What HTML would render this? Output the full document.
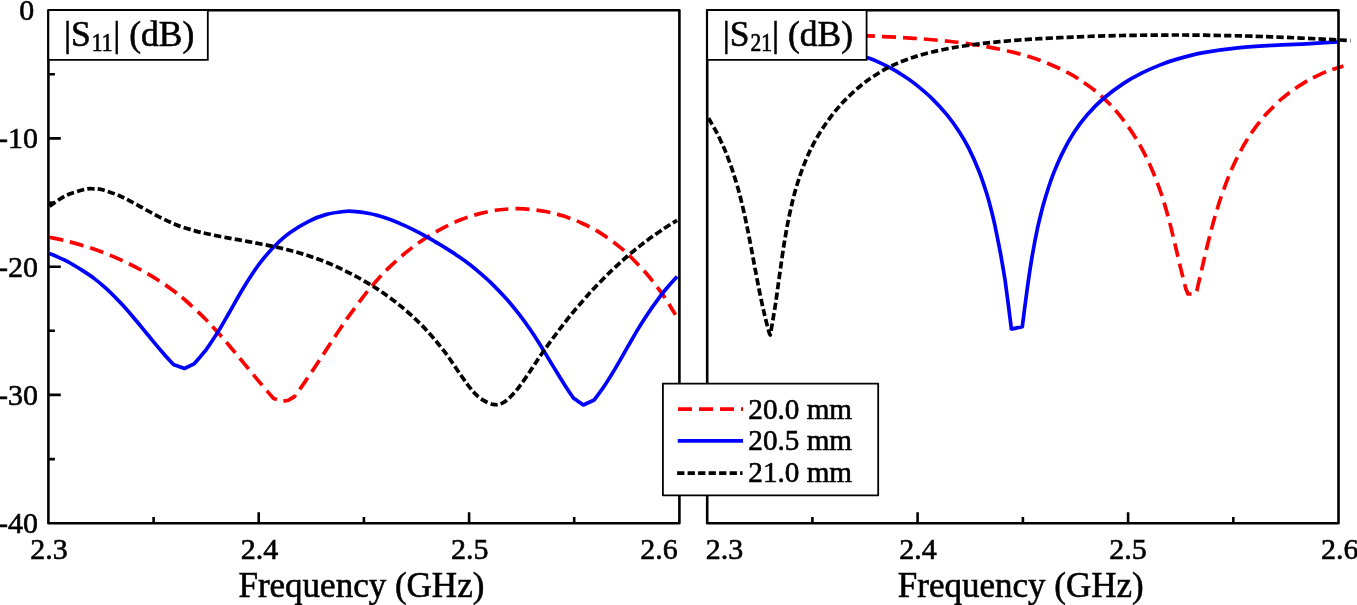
<!DOCTYPE html>
<html><head><meta charset="utf-8"><title>S-parameters</title>
<style>html,body{margin:0;padding:0;background:#fff;width:1357px;height:605px;overflow:hidden;font-family:"Liberation Serif",serif;}svg{display:block;will-change:transform} text{stroke:#000;stroke-width:0.6}</style>
</head><body>
<svg width="1357" height="605" viewBox="0 0 1357 605">
<rect width="1357" height="605" fill="#fff"/>
<path d="M49.5,237.3 C52.3,237.9 60.3,239.5 66.1,240.9 C71.9,242.4 78.3,244.1 84.4,246.0 C90.5,247.9 96.5,250.0 102.6,252.3 C108.6,254.6 114.7,257.1 120.8,259.9 C126.9,262.7 133.1,265.7 139.1,269.0 C145.2,272.2 151.3,275.8 157.1,279.5 C162.8,283.1 168.6,287.2 173.5,290.8 C178.3,294.4 181.1,296.5 186.2,301.0 C191.4,305.6 199.3,313.0 204.6,318.2 C209.9,323.5 213.4,327.5 217.9,332.5 C222.4,337.5 227.1,343.0 231.4,348.2 C235.8,353.4 239.9,358.4 244.2,363.7 C248.6,368.9 253.5,374.9 257.4,379.6 C261.4,384.4 265.3,389.0 268.0,392.1 C270.7,395.2 272.7,397.4 273.6,398.4 C275.1,398.9 281.3,400.8 282.8,401.3 C283.8,401.1 287.6,400.4 288.6,400.2 C289.6,399.6 293.4,397.3 294.4,396.7 C295.9,394.7 299.7,389.5 303.1,384.6 C306.5,379.6 311.0,372.9 315.0,367.0 C318.9,361.1 321.6,356.8 326.8,348.9 C332.1,341.0 340.1,328.6 346.5,319.4 C352.9,310.3 361.0,299.6 365.3,294.1 C369.5,288.5 368.2,290.2 371.9,286.0 C375.7,281.8 382.0,274.5 387.7,268.9 C393.4,263.3 400.0,257.4 406.1,252.4 C412.3,247.3 418.5,242.8 424.7,238.7 C430.8,234.7 437.1,231.0 443.2,227.9 C449.3,224.7 455.3,221.9 461.4,219.6 C467.4,217.2 473.6,215.2 479.6,213.6 C485.6,212.0 492.4,210.8 497.5,210.0 C502.6,209.3 505.5,209.1 510.0,208.9 C514.4,208.7 518.3,208.5 524.2,208.9 C530.2,209.4 539.1,210.3 545.7,211.5 C552.2,212.7 557.7,214.2 563.7,216.1 C569.8,218.1 575.8,220.3 582.0,223.2 C588.1,226.0 594.4,229.2 600.6,233.1 C606.8,237.0 614.3,242.8 619.2,246.6 C624.1,250.4 625.4,251.6 630.0,256.2 C634.6,260.8 642.2,268.7 647.0,274.2 C651.9,279.8 655.9,285.4 659.1,289.6 C662.3,293.8 663.3,295.3 666.0,299.5 C668.8,303.7 673.9,312.3 675.5,314.8" fill="none" stroke="#ff0000" stroke-width="3.7" stroke-linejoin="round" stroke-dasharray="14 7"/>
<path d="M49.5,253.4 C52.3,254.7 61.3,258.4 66.2,260.9 C71.1,263.4 76.8,267.0 78.9,268.2 C81.4,269.9 89.1,274.6 93.7,278.1 C98.4,281.6 102.4,285.0 106.9,289.1 C111.4,293.3 116.2,298.2 120.5,302.8 C124.9,307.4 128.7,311.8 132.9,316.8 C137.2,321.8 141.4,327.1 146.1,332.8 C150.9,338.5 156.9,345.9 161.5,351.2 C166.0,356.5 171.5,362.3 173.5,364.5 C175.3,365.2 182.6,367.8 184.4,368.5 C186.1,367.7 192.7,364.4 194.4,363.6 C196.1,361.7 202.1,354.7 204.3,351.9 C206.6,349.2 205.5,350.8 207.9,347.2 C210.3,343.6 215.3,336.3 218.9,330.4 C222.5,324.5 225.8,318.5 229.6,312.0 C233.4,305.4 237.6,297.6 241.6,291.0 C245.5,284.4 249.9,277.5 253.4,272.3 C256.9,267.1 259.0,264.1 262.6,259.7 C266.2,255.2 270.4,250.2 275.0,245.7 C279.6,241.2 284.6,236.6 290.2,232.6 C295.8,228.5 302.6,224.3 308.7,221.3 C314.7,218.2 320.7,216.0 326.6,214.4 C332.6,212.8 339.8,212.0 344.2,211.5 C348.6,211.0 348.8,211.1 353.0,211.4 C357.2,211.7 365.0,212.7 369.3,213.5 C373.7,214.3 375.9,215.0 379.4,216.0 C382.8,217.0 386.4,218.2 390.1,219.5 C393.8,220.9 397.6,222.4 401.3,224.1 C405.1,225.7 408.9,227.5 412.6,229.4 C416.3,231.2 420.1,233.2 423.7,235.2 C427.4,237.2 430.9,239.3 434.5,241.3 C438.0,243.4 441.5,245.4 445.0,247.6 C448.5,249.8 452.1,252.1 455.6,254.4 C459.0,256.8 462.5,259.2 465.8,261.6 C469.0,263.9 470.9,265.2 475.1,268.8 C479.3,272.3 485.5,277.5 490.8,282.6 C496.1,287.8 502.2,294.2 507.0,299.5 C511.7,304.9 515.5,309.6 519.4,314.6 C523.3,319.6 526.7,324.4 530.2,329.5 C533.7,334.6 536.1,338.3 540.4,345.2 C544.6,352.1 551.6,363.9 555.9,370.8 C560.1,377.7 562.8,382.1 565.8,386.7 C568.7,391.2 572.1,396.1 573.4,398.0 C575.0,399.2 581.6,403.8 583.3,405.0 C585.1,404.2 592.4,400.8 594.2,400.0 C595.9,397.6 601.1,390.8 604.5,385.7 C608.0,380.5 611.1,375.4 614.9,369.1 C618.7,362.8 623.5,354.2 627.2,347.7 C631.0,341.2 634.1,335.6 637.4,330.1 C640.7,324.7 643.5,320.2 647.0,315.0 C650.5,309.7 655.3,303.0 658.5,298.7 C661.6,294.4 662.7,293.0 665.8,289.3 C668.9,285.6 675.2,278.5 677.1,276.4" fill="none" stroke="#0000ff" stroke-width="3.7" stroke-linejoin="round"/>
<path d="M49.5,206.3 C52.2,204.5 59.8,198.4 65.7,195.6 C71.6,192.8 80.1,190.6 84.8,189.4 C89.5,188.3 90.9,188.7 93.9,188.8 C96.8,188.8 98.1,188.6 102.4,189.8 C106.8,191.0 114.0,193.4 120.0,196.0 C126.0,198.7 132.1,202.2 138.3,205.5 C144.5,208.8 150.9,212.7 157.2,215.9 C163.5,219.0 169.8,222.2 176.0,224.7 C182.1,227.2 188.7,229.1 194.1,230.6 C199.5,232.2 203.0,232.9 208.3,234.0 C213.7,235.2 220.2,236.4 226.2,237.6 C232.1,238.7 238.1,239.7 244.1,240.8 C250.1,241.9 256.0,243.0 262.1,244.2 C268.1,245.4 274.3,246.6 280.4,248.0 C286.5,249.5 292.5,251.0 298.6,252.7 C304.7,254.5 310.9,256.5 317.0,258.8 C323.2,261.0 329.3,263.5 335.4,266.2 C341.4,268.9 347.3,271.7 353.4,275.0 C359.6,278.2 367.8,283.1 372.4,285.9 C376.9,288.6 376.0,287.9 380.8,291.3 C385.5,294.7 393.7,300.3 400.8,306.2 C407.8,312.0 415.6,318.8 422.9,326.4 C430.2,334.0 437.2,342.2 444.5,351.7 C451.8,361.2 460.9,375.8 466.8,383.5 C472.6,391.1 475.0,394.2 479.4,397.7 C483.8,401.2 489.5,403.5 493.3,404.4 C497.2,405.3 499.4,404.4 502.3,403.1 C505.1,401.9 507.4,399.8 510.4,396.9 C513.4,393.9 516.7,390.2 520.3,385.3 C524.0,380.5 528.4,373.6 532.3,367.9 C536.2,362.1 539.5,357.0 543.7,351.0 C547.9,345.1 552.7,338.4 557.3,332.3 C561.9,326.2 566.3,320.5 571.3,314.4 C576.3,308.3 583.6,300.0 587.2,295.8 C590.8,291.7 589.0,293.7 592.8,289.6 C596.7,285.6 604.7,277.3 610.5,271.6 C616.4,266.0 622.2,260.7 628.1,255.6 C634.0,250.6 639.8,246.0 645.8,241.4 C651.9,236.8 659.2,231.8 664.4,228.3 C669.6,224.8 675.0,221.6 677.1,220.3" fill="none" stroke="#000000" stroke-width="3.7" stroke-linejoin="round" stroke-dasharray="7.3 3.2"/>
<path d="M840.0,34.3 C844.7,34.5 858.2,35.2 868.4,35.8 C878.6,36.3 892.1,37.0 901.3,37.5 C910.5,38.1 915.4,38.4 923.6,39.0 C931.8,39.7 944.7,40.9 950.7,41.5 C956.7,42.1 956.6,42.2 959.8,42.6 C962.9,43.0 965.0,43.2 969.7,44.0 C974.4,44.7 981.3,45.7 987.8,46.9 C994.3,48.1 1001.8,49.6 1008.7,51.2 C1015.5,52.8 1022.2,54.5 1028.8,56.6 C1035.5,58.7 1042.2,61.0 1048.6,63.7 C1055.0,66.3 1062.3,69.8 1067.3,72.4 C1072.4,75.0 1074.1,75.9 1079.0,79.2 C1083.8,82.4 1091.3,87.6 1096.5,91.9 C1101.8,96.2 1105.9,100.2 1110.4,104.8 C1114.8,109.5 1119.0,114.3 1123.2,119.8 C1127.5,125.3 1132.4,132.8 1135.7,137.9 C1138.9,143.0 1140.4,145.9 1142.8,150.4 C1145.2,155.0 1147.5,159.4 1150.1,165.2 C1152.6,170.9 1155.8,178.7 1158.2,185.1 C1160.5,191.4 1162.4,197.2 1164.3,203.4 C1166.2,209.6 1168.0,216.2 1169.5,222.0 C1171.1,227.9 1172.5,233.7 1173.6,238.4 C1174.8,243.2 1175.3,245.6 1176.5,250.5 C1177.6,255.4 1179.0,261.1 1180.5,267.6 C1182.1,274.0 1185.0,285.5 1185.9,289.1 C1186.3,289.9 1187.7,293.2 1188.0,294.0 C1189.2,294.0 1193.8,294.0 1195.0,294.0 C1195.3,293.5 1196.5,291.4 1196.8,290.9 C1197.6,287.3 1200.0,276.8 1201.7,269.6 C1203.4,262.4 1205.1,254.7 1206.8,247.7 C1208.5,240.8 1210.2,234.0 1211.9,227.6 C1213.6,221.2 1215.6,214.3 1217.1,209.4 C1218.6,204.4 1219.0,202.9 1220.7,198.0 C1222.5,193.0 1225.3,185.1 1227.4,179.6 C1229.5,174.1 1231.2,170.2 1233.6,165.0 C1236.1,159.7 1240.0,152.2 1242.2,148.0 C1244.4,143.8 1245.5,142.4 1246.9,140.0 C1248.3,137.7 1248.8,136.8 1250.8,134.0 C1252.7,131.2 1256.3,126.2 1258.6,123.2 C1260.9,120.2 1263.1,117.7 1264.5,116.0 C1266.0,114.3 1265.0,115.2 1267.3,112.9 C1269.6,110.6 1275.5,104.7 1278.1,102.1 C1280.7,99.6 1280.4,99.9 1283.1,97.7 C1285.8,95.5 1290.9,91.5 1294.5,88.9 C1298.2,86.3 1302.2,83.9 1305.1,82.1 C1308.0,80.3 1308.9,79.8 1312.1,78.2 C1315.2,76.7 1320.8,74.0 1324.0,72.6 C1327.1,71.2 1327.9,70.9 1331.2,69.8 C1334.4,68.7 1341.4,66.5 1343.4,65.9" fill="none" stroke="#ff0000" stroke-width="3.7" stroke-linejoin="round" stroke-dasharray="14 7"/>
<path d="M840.0,50.0 C844.6,51.3 861.3,55.7 867.7,57.7 C874.2,59.7 874.9,60.5 878.6,62.1 C882.3,63.8 886.3,65.8 889.9,67.7 C893.5,69.6 896.0,71.0 900.1,73.6 C904.2,76.2 909.0,79.2 914.4,83.4 C919.7,87.6 926.9,93.6 932.3,98.8 C937.7,104.1 942.5,109.4 947.0,114.9 C951.5,120.4 955.5,126.1 959.2,131.7 C962.8,137.2 965.4,141.6 968.7,148.2 C972.0,154.8 976.1,164.0 979.1,171.5 C982.1,179.0 984.5,186.6 986.6,193.3 C988.7,200.0 990.3,206.5 991.7,211.7 C993.0,217.0 993.3,218.1 994.8,224.9 C996.2,231.7 998.6,243.3 1000.3,252.4 C1002.0,261.5 1004.2,275.0 1005.0,279.5 C1005.6,284.1 1008.0,302.3 1008.6,306.8 C1009.1,310.5 1010.9,325.3 1011.4,329.0 C1013.2,328.6 1020.5,327.2 1022.3,326.8 C1022.7,323.5 1023.8,314.8 1024.8,307.0 C1025.9,299.1 1027.2,288.5 1028.5,279.7 C1029.8,270.9 1031.0,262.8 1032.5,254.2 C1034.0,245.6 1035.8,236.2 1037.5,228.1 C1039.3,220.0 1041.2,212.5 1043.0,205.7 C1044.9,198.9 1046.8,192.8 1048.6,187.2 C1050.4,181.7 1051.6,178.2 1053.9,172.4 C1056.3,166.5 1059.5,158.8 1062.9,152.1 C1066.2,145.4 1070.0,138.6 1074.1,132.3 C1078.2,126.0 1082.5,120.2 1087.5,114.5 C1092.4,108.8 1097.9,103.2 1104.0,98.0 C1110.0,92.9 1117.3,87.6 1123.6,83.4 C1129.9,79.3 1135.6,76.2 1141.6,73.2 C1147.6,70.1 1153.6,67.5 1159.7,65.1 C1165.7,62.7 1170.6,60.9 1177.9,58.9 C1185.2,56.8 1193.2,54.5 1203.5,52.6 C1213.9,50.8 1228.3,48.8 1240.0,47.6 C1251.7,46.3 1262.4,45.9 1273.5,45.3 C1284.6,44.6 1295.9,44.3 1306.6,43.8 C1317.3,43.2 1332.3,42.3 1337.5,42.0" fill="none" stroke="#0000ff" stroke-width="3.7" stroke-linejoin="round"/>
<path d="M708.6,118.2 C709.9,120.6 714.1,127.7 716.7,132.5 C719.2,137.4 721.8,143.3 723.7,147.3 C725.5,151.3 726.0,152.7 727.5,156.6 C729.0,160.6 730.9,165.7 732.6,170.8 C734.3,175.9 736.1,181.9 737.7,187.3 C739.2,192.6 740.4,197.1 741.8,203.1 C743.3,209.1 744.8,215.9 746.3,223.2 C747.9,230.4 749.4,238.6 750.9,246.3 C752.4,254.0 753.7,261.7 755.2,269.4 C756.7,277.2 758.2,285.2 759.7,292.7 C761.3,300.2 762.9,307.8 764.5,314.6 C766.1,321.4 768.6,330.4 769.4,333.5 C769.5,333.7 770.1,334.7 770.3,335.0 C770.5,333.8 771.3,329.2 771.5,328.0 C772.0,324.7 773.8,314.7 774.8,308.5 C775.8,302.3 776.5,297.0 777.4,290.6 C778.3,284.2 779.2,277.3 780.3,270.0 C781.3,262.6 782.5,254.3 783.7,246.4 C785.0,238.6 786.2,230.9 787.8,222.9 C789.4,214.9 791.2,206.3 793.2,198.6 C795.1,190.9 797.4,183.4 799.6,176.8 C801.8,170.1 804.3,163.9 806.5,158.5 C808.8,153.1 810.7,149.2 813.3,144.2 C816.0,139.3 819.0,133.9 822.4,128.8 C825.7,123.6 830.2,117.6 833.5,113.3 C836.8,109.1 839.6,106.1 842.0,103.3 C844.5,100.6 846.0,99.1 848.3,96.8 C850.7,94.5 853.5,91.9 856.1,89.6 C858.7,87.3 861.4,85.2 864.0,83.1 C866.6,81.1 869.1,79.3 872.0,77.3 C874.9,75.4 878.4,73.1 881.3,71.4 C884.2,69.7 886.5,68.5 889.4,67.0 C892.3,65.6 894.6,64.4 898.7,62.7 C902.8,61.0 908.6,58.8 914.2,57.0 C919.7,55.2 926.1,53.4 932.1,52.0 C938.1,50.5 945.8,49.1 950.4,48.2 C954.9,47.3 954.7,47.3 959.5,46.6 C964.4,45.9 972.8,44.7 979.5,43.8 C986.2,43.0 992.9,42.3 999.6,41.7 C1006.3,41.1 1012.9,40.5 1019.6,40.0 C1026.3,39.6 1033.0,39.1 1039.6,38.7 C1046.3,38.4 1052.9,38.0 1059.5,37.7 C1066.1,37.4 1069.0,37.2 1079.3,36.8 C1089.7,36.4 1104.2,35.8 1121.6,35.5 C1138.9,35.2 1162.7,35.0 1183.3,35.0 C1203.9,35.1 1228.0,35.6 1245.1,36.0 C1262.3,36.4 1272.6,36.9 1286.4,37.4 C1300.2,38.0 1317.1,38.8 1327.8,39.4 C1338.5,39.9 1346.7,40.4 1350.5,40.6" fill="none" stroke="#000000" stroke-width="3.7" stroke-linejoin="round" stroke-dasharray="7.3 3.2"/>
<rect x="48.4" y="10.2" width="631.0" height="513.0" fill="none" stroke="#000" stroke-width="2.6" stroke-linejoin="round"/>
<rect x="707.2" y="10.2" width="631.3" height="513.0" fill="none" stroke="#000" stroke-width="2.6" stroke-linejoin="round"/>
<path d="M153.6,523.2V517.0M363.9,523.2V517.0M574.2,523.2V517.0M258.7,523.2V512.2M469.1,523.2V512.2M812.4,523.2V517.0M1022.9,523.2V517.0M1233.3,523.2V517.0M917.6,523.2V512.2M1128.1,523.2V512.2M48.4,74.3H54.9M48.4,202.6H54.9M48.4,330.8H54.9M48.4,459.1H54.9M48.4,138.4H60.8M48.4,266.7H60.8M48.4,394.9H60.8" stroke="#000" stroke-width="2.6" fill="none"/>
<rect x="48.4" y="10.2" width="159.4" height="49.7" fill="#fff" stroke="#000" stroke-width="1.8" stroke-linejoin="round"/>
<text x="63.9" y="46.1" font-family="Liberation Serif" font-size="35.5">|S</text>
<text transform="translate(91.8,51.3) scale(1,1.15)" font-family="Liberation Serif" font-size="21.5">11</text>
<text x="113.2" y="46.1" font-family="Liberation Serif" font-size="35.5">| (dB)</text>
<rect x="707.2" y="10.2" width="159.4" height="49.7" fill="#fff" stroke="#000" stroke-width="1.8" stroke-linejoin="round"/>
<text x="722.7" y="46.1" font-family="Liberation Serif" font-size="35.5">|S</text>
<text transform="translate(750.6,51.3) scale(1,1.15)" font-family="Liberation Serif" font-size="21.5">21</text>
<text x="772.0" y="46.1" font-family="Liberation Serif" font-size="35.5">| (dB)</text>
<rect x="662.9" y="383.6" width="215.3" height="111.7" fill="#fff" stroke="#000" stroke-width="1.8" stroke-linejoin="round"/>
<path d="M678,409.1H743" stroke="#ff0000" stroke-width="3.7" stroke-dasharray="14 7"/>
<path d="M677.7,440.9H743" stroke="#0000ff" stroke-width="3.7"/>
<path d="M677.1,473.1H742.5" stroke="#000000" stroke-width="3.7" stroke-dasharray="7.3 3.2"/>
<text transform="translate(748.3,418.7) scale(1,1.01)" font-family="Liberation Serif" font-size="29.2">20.0 mm</text>
<text transform="translate(748.3,450.1) scale(1,1.01)" font-family="Liberation Serif" font-size="29.2">20.5 mm</text>
<text transform="translate(748.3,481.6) scale(1,1.01)" font-family="Liberation Serif" font-size="29.2">21.0 mm</text>
<g font-family="Liberation Serif" font-size="30">
<text transform="translate(34.3,20.2) scale(1,1.015)" text-anchor="end">0</text>
<text transform="translate(37.9,148.4) scale(1,1.015)" text-anchor="end">-10</text>
<text transform="translate(37.9,276.7) scale(1,1.015)" text-anchor="end">-20</text>
<text transform="translate(37.9,404.9) scale(1,1.015)" text-anchor="end">-30</text>
<text transform="translate(37.9,533.2) scale(1,1.015)" text-anchor="end">-40</text>
<text transform="translate(49.0,558.9) scale(1,1.015)" text-anchor="middle">2.3</text>
<text transform="translate(259.4,558.9) scale(1,1.015)" text-anchor="middle">2.4</text>
<text transform="translate(469.7,558.9) scale(1,1.015)" text-anchor="middle">2.5</text>
<text transform="translate(659.0,558.9) scale(1,1.015)" text-anchor="middle">2.6</text>
<text transform="translate(724.5,558.9) scale(1,1.015)" text-anchor="middle">2.3</text>
<text transform="translate(918.1,558.9) scale(1,1.015)" text-anchor="middle">2.4</text>
<text transform="translate(1128.1,558.9) scale(1,1.015)" text-anchor="middle">2.5</text>
<text transform="translate(1339.8,558.9) scale(1,1.015)" text-anchor="middle">2.6</text>
</g>
<text x="361.4" y="597.3" font-family="Liberation Serif" font-size="35" text-anchor="middle">Frequency (GHz)</text>
<text x="1020.8" y="597.3" font-family="Liberation Serif" font-size="35" text-anchor="middle">Frequency (GHz)</text>
</svg>
</body></html>
